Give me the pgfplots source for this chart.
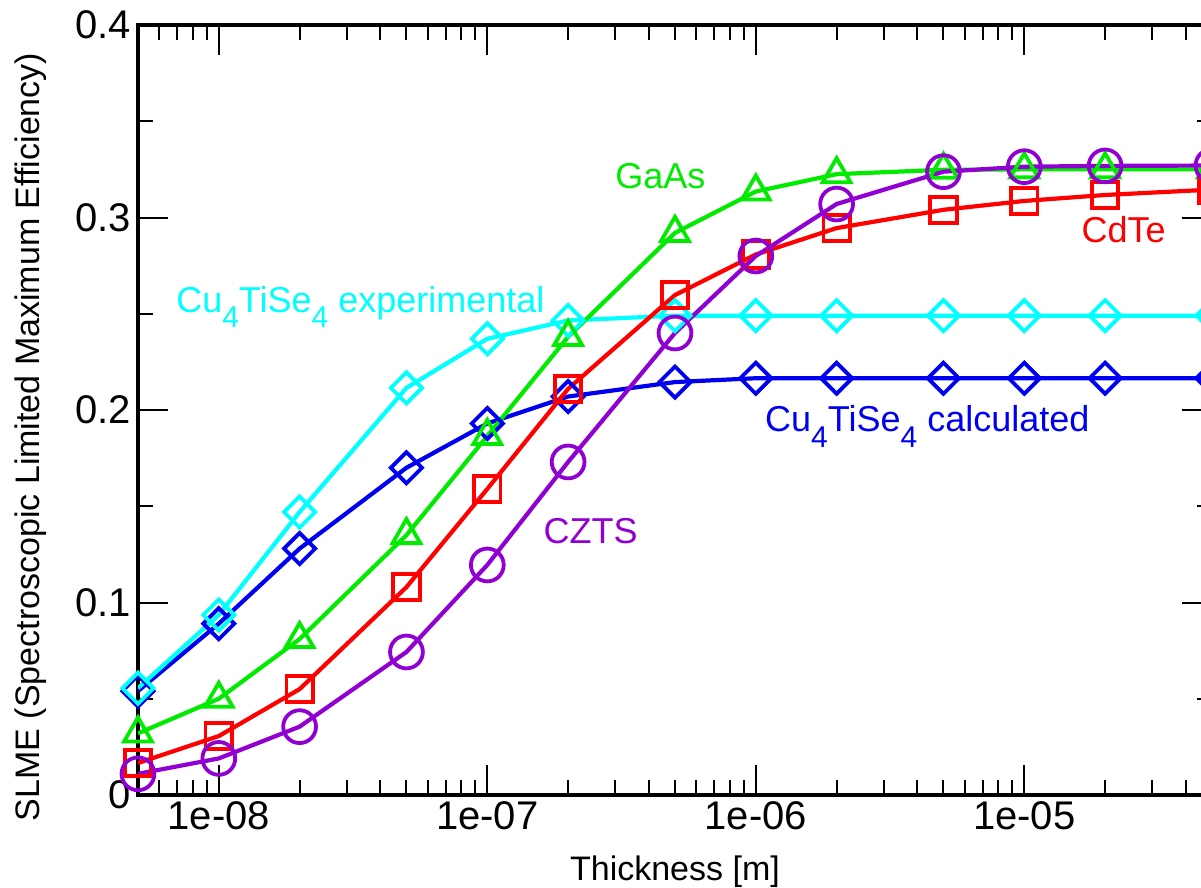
\documentclass[border=0pt]{standalone}
\usepackage{fontspec}
\setmainfont{Liberation Sans}
\usepackage{pgfplots}
\pgfplotsset{compat=1.18}
\definecolor{cyanc}{RGB}{0,255,255}
\definecolor{bluec}{RGB}{0,0,240}
\definecolor{greenc}{RGB}{0,235,0}
\definecolor{redc}{RGB}{255,0,0}
\definecolor{purplec}{RGB}{145,0,210}
\newcommand\sub[1]{\raisebox{-0.42em}{\fontsize{15}{16}\selectfont #1}}
\begin{document}
\begin{tikzpicture}
\begin{axis}[
 name=ax,
 scale only axis, width=537pt, height=385pt,
 xmode=log, xmin=5e-9, xmax=5e-5, ymin=0, ymax=0.4,
 axis line style={line width=1.6pt},
 every tick/.style={black, line width=1pt},
 major tick length=15pt, minor tick length=7.5pt,
 tick align=inside,
 xtick={1e-8,1e-7,1e-6,1e-5}, xticklabels={1e-08,1e-07,1e-06,1e-05},
 minor xtick={6e-9,7e-9,8e-9,9e-9,2e-8,3e-8,4e-8,5e-8,6e-8,7e-8,8e-8,9e-8,2e-7,3e-7,4e-7,5e-7,6e-7,7e-7,8e-7,9e-7,2e-6,3e-6,4e-6,5e-6,6e-6,7e-6,8e-6,9e-6,2e-5,3e-5,4e-5},
 ytick={0,0.1,0.2,0.3,0.4}, yticklabels={0,0.1,0.2,0.3,0.4},
 minor ytick={0.05,0.15,0.25,0.35},
 tick label style={font=\fontsize{20}{22}\selectfont},
 label style={font=\fontsize{17}{19}\selectfont},
 xlabel={Thickness [m]},
 ylabel={SLME (Spectroscopic Limited Maximum Efficiency)},
 xlabel style={at={(rel axis cs:0.5,-0.1104)}, anchor=base},
 ylabel style={at={(rel axis cs:-0.0996,0.465)}, anchor=center},
 every axis plot/.append style={line width=2.1pt},
]
\coordinate (bbsw) at (rel axis cs:-0.12849,-0.12078);
\coordinate (bbne) at (rel axis cs:0.98976,1.03247);

\addplot[bluec, mark=square, mark size=5.5pt, mark options={rotate=45, line width=1.9pt, solid}] coordinates {
(5e-9,0.054) (1e-8,0.089) (2e-8,0.128) (5e-8,0.170) (1e-7,0.193) (2e-7,0.207) (5e-7,0.2145)
(1e-6,0.2165) (2e-6,0.2165) (5e-6,0.2165) (1e-5,0.2165) (2e-5,0.2165) (5e-5,0.2165)};

\addplot[cyanc, mark=square, mark size=5.5pt, mark options={rotate=45, line width=1.9pt, solid}] coordinates {
(5e-9,0.0555) (1e-8,0.0935) (2e-8,0.147) (5e-8,0.2115) (1e-7,0.237) (2e-7,0.2465) (5e-7,0.249)
(1e-6,0.249) (2e-6,0.249) (5e-6,0.249) (1e-5,0.249) (2e-5,0.249) (5e-5,0.249)};

\addplot[greenc, mark=triangle, mark size=8pt, mark options={line width=1.9pt, solid}] coordinates {
(5e-9,0.032) (1e-8,0.050) (2e-8,0.081) (5e-8,0.135) (1e-7,0.1865) (2e-7,0.238) (5e-7,0.292)
(1e-6,0.3135) (2e-6,0.3225) (5e-6,0.3248) (1e-5,0.325) (2e-5,0.325) (5e-5,0.325)};

\addplot[redc, mark=square, mark size=6.6pt, mark options={line width=1.9pt, solid}] coordinates {
(5e-9,0.0166) (1e-8,0.0306) (2e-8,0.055) (5e-8,0.108) (1e-7,0.159) (2e-7,0.211) (5e-7,0.2597)
(1e-6,0.2808) (2e-6,0.2945) (5e-6,0.304) (1e-5,0.3086) (2e-5,0.3117) (5e-5,0.3145)};

\addplot[purplec, mark=o, mark size=8.2pt, mark options={line width=1.9pt, solid}] coordinates {
(5e-9,0.011) (1e-8,0.019) (2e-8,0.0355) (5e-8,0.0743) (1e-7,0.1195) (2e-7,0.173) (5e-7,0.240)
(1e-6,0.280) (2e-6,0.307) (5e-6,0.3238) (1e-5,0.3264) (2e-5,0.3268) (5e-5,0.327)};

\node[anchor=base west, text=greenc, font=\fontsize{18}{20}\selectfont, inner sep=0pt] at (axis cs:2.99e-7,0.3153) {GaAs};
\node[anchor=base west, text=redc, font=\fontsize{18}{20}\selectfont, inner sep=0pt] at (axis cs:1.63e-5,0.2868) {CdTe};
\node[anchor=base west, text=purplec, font=\fontsize{18}{20}\selectfont, inner sep=0pt] at (axis cs:1.615e-7,0.1309) {CZTS};
\node[anchor=base west, text=cyanc, font=\fontsize{18}{20}\selectfont, inner sep=0pt] at (axis cs:6.92e-9,0.2509) {Cu\sub{4}TiSe\sub{4} experimental};
\node[anchor=base west, text=bluec, font=\fontsize{18}{20}\selectfont, inner sep=0pt] at (axis cs:1.08e-6,0.1886) {Cu\sub{4}TiSe\sub{4} calculated};
\end{axis}
\pgfresetboundingbox
\path[use as bounding box] (bbsw) rectangle (bbne);
\end{tikzpicture}
\end{document}
